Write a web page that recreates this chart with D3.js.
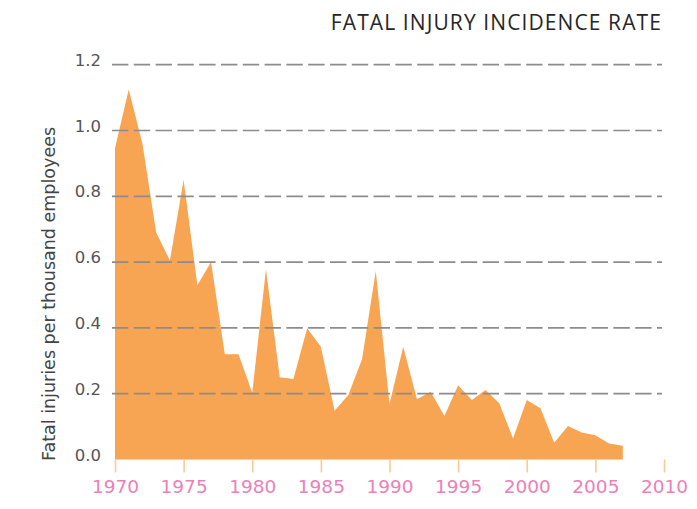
<!DOCTYPE html>
<html>
<head>
<meta charset="utf-8">
<script src="https://cdn.jsdelivr.net/npm/d3@7"></script>
<style>
  html, body { margin: 0; padding: 0; background: #ffffff; }
  svg { display: block; }
</style>
</head>
<body>
<svg id="chart" width="697" height="509"></svg>
<script>
const years = [1970,1971,1972,1973,1974,1975,1976,1977,1978,1979,1980,1981,1982,1983,1984,1985,1986,1987,1988,1989,1990,1991,1992,1993,1994,1995,1996,1997,1998,1999,2000,2001,2002,2003,2004,2005,2006,2007];
const rates = [0.946,1.125,0.96,0.69,0.605,0.85,0.53,0.60,0.32,0.32,0.203,0.578,0.25,0.245,0.399,0.343,0.148,0.196,0.305,0.573,0.169,0.343,0.183,0.206,0.132,0.226,0.181,0.211,0.171,0.064,0.181,0.156,0.051,0.102,0.082,0.074,0.049,0.042];
const xTicks = [1970,1975,1980,1985,1990,1995,2000,2005,2010];
const yTicks = [0,0.2,0.4,0.6,0.8,1.0,1.2];
const gridTicks = [0.2,0.4,0.6,0.8,1.0,1.2];
const titleText = "FATAL INJURY INCIDENCE RATE";
const yTitle = "Fatal injuries per thousand employees";

const svg = d3.select("#chart");
const numFont = "'DejaVu Sans', sans-serif";
const titleFont = "'Open Sans', Lato, sans-serif";

const x = d3.scaleLinear().domain([1970, 2010]).range([115, 664]);
const y = d3.scaleLinear().domain([0, 1.2]).range([459.5, 64.7]);

const data = years.map((yr, i) => ({year: yr, v: rates[i]}));

// area
const area = d3.area()
  .x(d => x(d.year))
  .y0(y(0))
  .y1(d => y(d.v));
svg.append("path")
  .datum(data)
  .attr("d", area)
  .attr("fill", "#f8a553");

// gridlines (on top of area)
svg.append("g").selectAll("line")
  .data(gridTicks)
  .join("line")
  .attr("x1", 112)
  .attr("x2", 662)
  .attr("y1", d => y(d))
  .attr("y2", d => y(d))
  .attr("stroke", "#8c8c8c")
  .attr("stroke-width", 1.7)
  .attr("stroke-dasharray", "16.4,5.4");

// y labels
svg.append("g").selectAll("text")
  .data(yTicks)
  .join("text")
  .attr("x", 101)
  .attr("y", d => y(d) + 1)
  .attr("text-anchor", "end")
  .attr("font-family", numFont)
  .attr("font-size", 16.5)
  .attr("fill", "#555555")
  .text(d => d3.format(".1f")(d));

// x axis
const xAxis = d3.axisBottom(x)
  .tickValues(xTicks)
  .tickFormat(d3.format("d"))
  .tickSize(13)
  .tickPadding(7);
const gx = svg.append("g")
  .attr("transform", `translate(0,${y(0)})`)
  .call(xAxis);
gx.select(".domain").remove();
gx.selectAll(".tick line")
  .attr("stroke", "#fbc994")
  .attr("stroke-width", 1.6);
gx.selectAll(".tick text")
  .attr("font-family", numFont)
  .attr("font-size", 18.5)
  .attr("fill", "#ec80b7");

// y axis title
svg.append("text")
  .attr("transform", "translate(55,294) rotate(-90)")
  .attr("text-anchor", "middle")
  .attr("font-family", numFont)
  .attr("font-size", 17.5)
  .attr("fill", "#444444")
  .text(yTitle);

// title
svg.append("text")
  .attr("x", 662)
  .attr("y", 30)
  .attr("text-anchor", "end")
  .attr("font-family", titleFont)
  .attr("font-size", 21)
  .attr("letter-spacing", 1.1)
  .attr("fill", "#262626")
  .text(titleText);
</script>
</body>
</html>
